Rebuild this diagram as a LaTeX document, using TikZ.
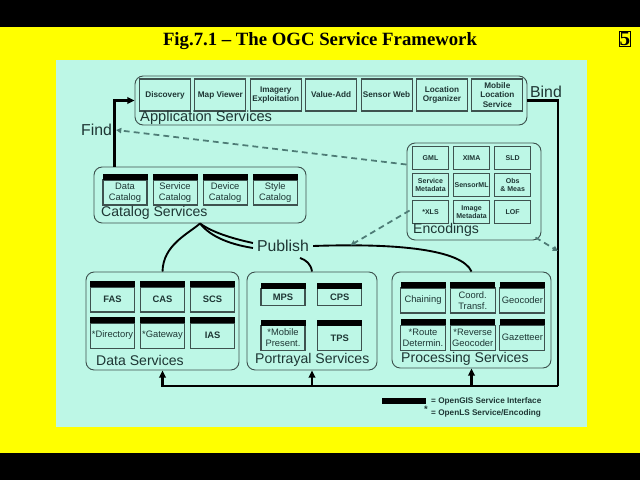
\documentclass[tikz,border=0pt]{standalone}
\usepackage{fontspec}
\setmainfont{Liberation Serif}
\setsansfont{Liberation Sans}
\usetikzlibrary{arrows.meta, positioning, calc}
\definecolor{slideyellow}{HTML}{FFFF00}
\definecolor{panel}{HTML}{BDF7E6}
\definecolor{ink}{HTML}{1E3634}
\definecolor{rim}{HTML}{3E524F}
\definecolor{dashteal}{HTML}{4E7C76}

\begin{document}
\begin{tikzpicture}[
    x=0.03cm, y=-0.03cm,
    group/.style={draw=rim, line width=0.8pt, rounded corners=7pt, inner sep=0pt},
    grouplbl/.style={anchor=west, inner sep=0pt, text=ink, font=\sffamily\fontsize{12}{14}\selectfont},
    bigtxt/.style={text=ink, font=\sffamily\fontsize{13.5}{16}\selectfont},
    appbox/.style={draw=rim, line width=0.9pt, minimum width=1.53cm, minimum height=0.96cm, inner sep=0pt, align=center, text=ink, font=\sffamily\bfseries\fontsize{7}{8}\selectfont},
    encbox/.style={draw=rim, line width=0.9pt, minimum width=1.1cm, minimum height=0.68cm, inner sep=0pt, align=center, text=ink, font=\sffamily\bfseries\fontsize{6}{7}\selectfont},
    cell/.style={draw=rim, line width=0.9pt, minimum width=1.32cm, minimum height=0.75cm, inner sep=0pt, align=center, text=ink, font=\sffamily\fontsize{8}{9}\selectfont},
    ifcbar/.style={fill=black, inner sep=0pt, minimum width=1.35cm, minimum height=0.18cm},
    ifc/.style={cell, label={[ifcbar, label distance=-0.9pt]north:{}}},
    pcell/.style={ifc, minimum width=1.35cm},
    flow/.style={-{Triangle[length=6pt, width=5.5pt]}, line width=1.8pt},
    bindln/.style={line width=1.8pt},
    pubcurve/.style={line width=1.6pt},
    dashln/.style={-{Triangle[length=4.5pt, width=4.5pt]}, draw=dashteal, line width=1.5pt, dash pattern=on 5pt off 3.5pt},
    legtxt/.style={anchor=west, inner sep=0pt, text=ink, font=\sffamily\bfseries\fontsize{7}{8}\selectfont},
]

% slide
\useasboundingbox (0,0) rectangle (640,480);
\fill[black] (0,0) rectangle (640,480);
\fill[slideyellow] (0,27) rectangle (640,453);
\fill[panel] (56,60) rectangle (587,427);

\node[font=\bfseries\fontsize{16}{19}\selectfont] (title) at (320,41) {Fig.7.1 \textendash{} The OGC Service Framework};
\node[draw, line width=0.7pt, inner sep=0.4pt, font=\bfseries\fontsize{18}{18}\selectfont] (pagenr) at (625,39) {5};

% service groups
\node[group, minimum width=11.76cm, minimum height=1.47cm] (app) at (331,100.5) {};
\node[group, minimum width=6.36cm, minimum height=1.68cm] (cat) at (200,195) {};
\node[group, minimum width=4.02cm, minimum height=2.91cm] (enc) at (474,191.5) {};
\node[group, minimum width=4.59cm, minimum height=2.94cm] (data) at (162.5,321) {};
\node[group, minimum width=3.9cm, minimum height=2.94cm] (port) at (312,321) {};
\node[group, minimum width=4.77cm, minimum height=2.88cm] (proc) at (471.5,320) {};

% Application services
\node[appbox] (disc) at (165,95) {Discovery};
\node[appbox, right=0.1cm of disc] (mapv) {Map Viewer};
\node[appbox, right=0.1cm of mapv] (imgx) {Imagery\\Exploitation};
\node[appbox, right=0.1cm of imgx] (vadd) {Value-Add};
\node[appbox, right=0.1cm of vadd] (sweb) {Sensor Web};
\node[appbox, right=0.1cm of sweb] (lorg) {Location\\Organizer};
\node[appbox, right=0.1cm of lorg] (mls) {Mobile\\Location\\Service};
\node[grouplbl, font=\sffamily\fontsize{12.5}{14}\selectfont] (applbl) at (140,117.5) {Application Services};

% Catalog services
\node[ifc] (dcat) at (125,192.5) {Data\\Catalog};
\node[ifc, right=0.15cm of dcat] (scat) {Service\\Catalog};
\node[ifc, right=0.15cm of scat] (devcat) {Device\\Catalog};
\node[ifc, right=0.15cm of devcat] (stycat) {Style\\Catalog};
\node[grouplbl] (catlbl) at (101,213) {Catalog Services};

% Encodings
\node[encbox] (gml) at (430.5,158) {GML};
\node[encbox, right=0.1cm of gml] (xima) {XIMA};
\node[encbox, right=0.1cm of xima] (sld) {SLD};
\node[encbox, below=0.1cm of gml] (smeta) {Service\\Metadata};
\node[encbox, right=0.1cm of smeta] (sml) {SensorML};
\node[encbox, right=0.1cm of sml] (om) {Obs\\\& Meas};
\node[encbox, below=0.1cm of smeta] (xls) {*XLS};
\node[encbox, right=0.1cm of xls] (imeta) {Image\\Metadata};
\node[encbox, right=0.1cm of imeta] (lof) {LOF};
\node[grouplbl] (enclbl) at (413,230) {Encodings};

% Data services
\node[ifc] (fas) at (112.5,299.5) {\textbf{FAS}};
\node[ifc, right=0.15cm of fas] (cas) {\textbf{CAS}};
\node[ifc, right=0.15cm of cas] (scs) {\textbf{SCS}};
\node[ifc, below=0.3cm of fas] (dir) {*Directory};
\node[ifc, right=0.15cm of dir] (gway) {*Gateway};
\node[ifc, right=0.15cm of gway] (ias) {\textbf{IAS}};
\node[grouplbl] (datalbl) at (96,360) {Data Services};

% Portrayal services
\node[ifc, minimum height=0.5cm] (mps) at (283,297) {\textbf{MPS}};
\node[ifc, minimum height=0.5cm, right=0.35cm of mps] (cps) {\textbf{CPS}};
\node[ifc, below=0.57cm of mps] (mobp) {*Mobile\\Present.};
\node[ifc, right=0.35cm of mobp] (tps) {\textbf{TPS}};
\node[grouplbl] (portlbl) at (255,360) {Portrayal Services};

% Processing services
\node[pcell] (chain) at (423,300.5) {Chaining};
\node[pcell, right=0.11cm of chain] (coord) {Coord.\\Transf.};
\node[pcell, right=0.11cm of coord] (geoc) {Geocoder};
\node[pcell, below=0.33cm of chain] (route) {*Route\\Determin.};
\node[pcell, right=0.11cm of route] (revg) {*Reverse\\Geocoder};
\node[pcell, right=0.11cm of revg] (gaz) {Gazetteer};
\node[grouplbl] (proclbl) at (401,359) {Processing Services};

% find / bind / publish
\node[bigtxt] (find) at (96.5,130) {Find};
\node[bigtxt] (bind) at (546,92) {Bind};
\node[bigtxt] (pub) at (283,246) {Publish};

\draw[flow] ($(cat.north west)+(21,0)$) |- (app.west);

\coordinate (bindbot) at (558,386);
\coordinate (bindmid) at (558,251);
\draw[bindln] (app.east) -| (bindbot);
\draw[flow] (bindbot) -| (data.south);
\draw[flow] (bindbot) -| (port.south);
\draw[flow] (bindbot) -| (proc.south);

\draw[pubcurve] (data.north) .. controls (163,245) and (188,234) .. (cat.south);
\draw[pubcurve] ($(pub.west)+(0,-3)$) .. controls (230,238) and (212,232) .. (cat.south);
\draw[pubcurve] ($(pub.west)+(0,2)$) .. controls (228,244) and (210,236) .. (cat.south);
\draw[pubcurve] (pub.east) .. controls (400,243) and (462,250) .. (proc.north) coordinate[pos=0.15] (pubmid);
\draw[pubcurve] (port.north) .. controls (311,264) and (306,260) .. ($(pub.south)+(17,2)$);

% encodings links
\draw[dashln] ($(enc.north west)+(0,22)$) -- (find.east);
\draw[dashln] ($(enc.north west)+(3,68)$) -- (pubmid);
\draw[dashln] ($(enc.south east)+(-6,-3)$) -- (bindmid);

% legend
\node[fill=black, minimum width=1.32cm, minimum height=0.18cm, inner sep=0pt] (legbar) at (404,401) {};
\node[legtxt] (legogc) at (431,401) {= OpenGIS Service Interface};
\node[legtxt, font=\sffamily\bfseries\fontsize{8}{8}\selectfont] (legstar) at (424,409) {*};
\node[legtxt] (legols) at (431,413) {= OpenLS Service/Encoding};

\end{tikzpicture}
\end{document}
